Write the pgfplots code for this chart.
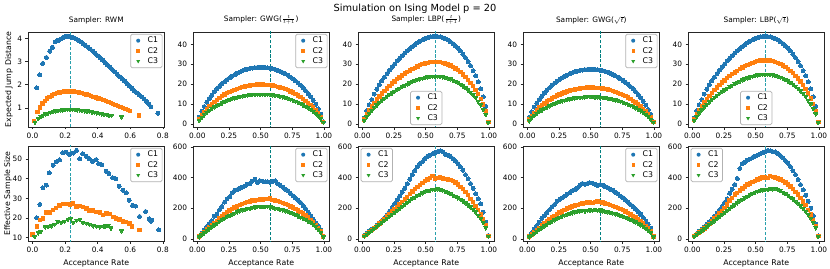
\documentclass[border=0pt]{standalone}
\usepackage{pgfplots}
\pgfplotsset{compat=1.18}
\usepackage{pgfplotstable}
\usepackage{fontspec}
\setmainfont{DejaVu Sans}
\definecolor{cA}{HTML}{1F77B4}
\definecolor{cB}{HTML}{FF7F0E}
\definecolor{cC}{HTML}{2CA02C}
\definecolor{vlA}{RGB}{40,160,172}
\definecolor{vlB}{RGB}{0,128,128}

\pgfplotstableread{
x a b c d e f
0.015 3.4 2.4 1.8 15 15 12
0.035 6.4 4.4 3.3 38 30 25
0.055 8.8 6.1 4.6 58 45 38
0.075 10.9 7.6 5.7 80 60 52
0.095 12.8 8.9 6.7 100 75 65
0.115 14.5 10.1 7.7 118 90 78
0.135 16.1 11.2 8.5 148 105 90
0.155 17.6 12.2 9.2 160 118 102
0.175 18.9 13.1 9.9 190 132 115
0.195 20.1 14.0 10.6 212 145 125
0.215 21.2 14.8 11.2 240 160 135
0.235 22.3 15.5 11.7 262 172 145
0.255 23.2 16.1 12.2 275 185 152
0.275 24.1 16.7 12.7 300 195 160
0.295 24.8 17.2 13.1 318 205 168
0.315 25.5 17.7 13.4 322 212 175
0.335 26.1 18.2 13.8 330 220 182
0.355 26.7 18.5 14.0 338 228 188
0.375 27.2 18.9 14.3 345 235 192
0.395 27.6 19.1 14.5 358 240 198
0.415 27.9 19.4 14.7 362 245 200
0.435 28.1 19.5 14.8 378 250 205
0.455 28.3 19.7 14.9 390 252 208
0.475 28.4 19.8 15.0 368 255 210
0.495 28.5 19.8 15.0 380 258 212
0.515 28.5 19.8 15.0 378 256 210
0.535 28.4 19.7 14.9 372 260 214
0.555 28.2 19.6 14.9 374 262 212
0.575 28.0 19.5 14.7 370 265 208
0.595 27.7 19.3 14.6 376 255 205
0.615 27.4 19.0 14.4 380 250 200
0.635 26.9 18.7 14.2 360 248 198
0.655 26.4 18.4 13.9 350 240 192
0.675 25.8 18.0 13.6 338 235 188
0.695 25.2 17.5 13.3 325 228 182
0.715 24.5 17.0 12.9 315 220 178
0.735 23.6 16.4 12.4 298 212 172
0.755 22.7 15.8 12.0 282 205 166
0.775 21.7 15.1 11.4 268 196 158
0.795 20.7 14.4 10.9 252 186 150
0.815 19.5 13.5 10.3 238 175 142
0.835 18.2 12.7 9.6 218 165 135
0.855 16.8 11.7 8.9 198 152 125
0.875 15.3 10.7 8.1 175 140 115
0.895 13.7 9.5 7.2 152 125 105
0.915 11.9 8.3 6.3 128 110 92
0.935 9.9 6.9 5.2 105 92 78
0.955 7.6 5.3 4.0 85 72 62
0.975 5.0 3.4 2.6 60 48 42
0.995 1.2 1.0 0.9 18 15 12
}\tGa

\pgfplotstableread{
x a b c d e f
0.015 3.1 2.2 1.7 22 20 18
0.035 6.6 4.7 3.6 38 32 30
0.055 9.7 6.9 5.3 52 45 42
0.075 12.3 8.7 6.7 62 58 54
0.095 15.0 10.6 8.2 72 70 66
0.115 17.4 12.3 9.5 88 85 80
0.135 19.6 13.9 10.7 105 100 95
0.155 21.6 15.3 11.8 120 115 108
0.175 23.5 16.7 12.8 138 130 120
0.195 25.3 17.9 13.8 158 148 135
0.215 27.1 19.2 14.8 180 162 148
0.235 28.6 20.3 15.6 205 178 160
0.255 30.1 21.4 16.4 230 192 172
0.275 31.7 22.5 17.3 255 210 185
0.295 33.0 23.4 18.0 280 225 198
0.315 34.3 24.3 18.7 305 240 212
0.335 35.6 25.3 19.4 330 258 225
0.355 36.7 26.1 20.0 360 275 238
0.375 37.8 26.8 20.6 390 292 250
0.395 38.9 27.6 21.2 420 310 262
0.415 39.8 28.2 21.7 445 325 272
0.435 40.7 28.9 22.2 470 340 282
0.455 41.6 29.5 22.7 490 352 292
0.475 42.2 30.0 23.0 505 365 300
0.495 42.9 30.4 23.4 525 378 308
0.515 43.3 30.7 23.6 540 388 315
0.535 43.7 31.0 23.8 548 398 318
0.555 43.9 31.1 24.0 555 410 325
0.575 44.0 31.2 24.0 565 395 322
0.595 43.9 31.1 24.0 570 398 326
0.615 43.7 31.0 23.8 575 400 322
0.635 43.3 30.7 23.6 568 395 318
0.655 42.8 30.4 23.4 552 392 310
0.675 42.2 29.9 23.0 548 388 302
0.695 41.4 29.3 22.6 540 385 295
0.715 40.4 28.6 22.0 525 378 286
0.735 39.3 27.9 21.4 510 368 278
0.755 38.1 27.0 20.8 492 355 268
0.775 36.7 26.0 20.0 470 340 258
0.795 35.1 24.9 19.1 448 325 248
0.815 33.3 23.6 18.2 420 305 235
0.835 31.4 22.2 17.1 392 285 222
0.855 29.3 20.7 16.0 362 262 208
0.875 26.8 19.0 14.6 330 240 192
0.895 24.2 17.2 13.2 295 215 175
0.915 21.1 15.0 11.5 262 190 155
0.935 17.6 12.5 9.6 228 160 132
0.955 13.6 9.7 7.4 175 128 105
0.975 8.8 6.2 4.8 110 88 72
0.995 1.0 0.9 0.8 22 20 18
}\tLa

\pgfplotstableread{
x a b c d e f
0.015 3.3 2.2 1.6 20 15 12
0.035 6.1 4.1 3.1 40 28 24
0.055 8.5 5.6 4.2 62 42 36
0.075 10.5 7.0 5.2 85 58 48
0.095 12.3 8.2 6.2 110 72 60
0.115 14.0 9.3 7.0 135 88 72
0.135 15.5 10.3 7.7 150 100 84
0.155 16.9 11.3 8.4 172 115 95
0.175 18.2 12.1 9.1 190 128 105
0.195 19.4 12.9 9.7 210 140 115
0.215 20.5 13.6 10.2 225 150 124
0.235 21.5 14.3 10.7 245 162 132
0.255 22.4 14.9 11.2 258 172 140
0.275 23.2 15.4 11.6 268 180 148
0.295 24.0 15.9 11.9 280 190 155
0.315 24.6 16.4 12.3 292 198 160
0.335 25.2 16.8 12.6 300 205 166
0.355 25.7 17.1 12.8 315 212 170
0.375 26.2 17.4 13.1 322 218 175
0.395 26.6 17.7 13.2 332 222 178
0.415 26.9 17.9 13.4 350 228 182
0.435 27.1 18.1 13.5 362 232 185
0.455 27.3 18.2 13.6 358 235 180
0.475 27.4 18.3 13.7 362 238 186
0.495 27.5 18.3 13.7 366 240 188
0.515 27.5 18.3 13.7 364 236 185
0.535 27.4 18.2 13.6 358 242 190
0.555 27.3 18.1 13.6 350 245 186
0.575 27.0 18.0 13.5 355 240 188
0.595 26.8 17.8 13.3 352 238 182
0.615 26.4 17.6 13.2 340 232 180
0.635 26.0 17.3 12.9 335 228 175
0.655 25.5 17.0 12.7 325 222 172
0.675 24.9 16.6 12.4 318 215 168
0.695 24.3 16.2 12.1 305 210 162
0.715 23.6 15.7 11.8 295 202 158
0.735 22.8 15.2 11.4 280 195 152
0.755 21.9 14.6 10.9 270 188 146
0.775 21.0 14.0 10.5 255 178 140
0.795 19.9 13.3 9.9 240 170 132
0.815 18.8 12.5 9.4 225 160 125
0.835 17.6 11.7 8.8 210 150 118
0.855 16.3 10.8 8.1 195 140 110
0.875 14.8 9.8 7.4 178 128 100
0.895 13.2 8.8 6.6 160 115 90
0.915 11.5 7.6 5.7 138 100 80
0.935 9.5 6.3 4.7 115 85 68
0.955 7.3 4.9 3.7 95 68 55
0.975 4.8 3.2 2.4 70 48 40
0.995 1.2 1.0 0.9 18 15 12
}\tGb

\pgfplotstableread{
x a b c d e f
0.015 3.1 2.2 1.8 20 18 15
0.035 6.6 4.8 3.8 35 30 28
0.055 9.7 7.0 5.5 50 42 40
0.075 12.3 9.0 7.0 62 55 52
0.095 15.0 10.9 8.5 78 68 65
0.115 17.4 12.6 9.9 95 82 78
0.135 19.6 14.2 11.1 110 98 92
0.155 21.6 15.7 12.3 128 115 105
0.175 23.5 17.1 13.4 148 132 118
0.195 25.3 18.4 14.4 168 150 132
0.215 27.1 19.7 15.4 190 165 145
0.235 28.6 20.8 16.3 212 182 158
0.255 30.1 21.9 17.1 238 200 172
0.275 31.7 23.0 18.0 262 225 185
0.295 33.0 24.0 18.8 298 250 198
0.315 34.3 25.0 19.5 325 268 210
0.335 35.6 25.9 20.3 355 290 222
0.355 36.7 26.7 20.9 395 300 235
0.375 37.8 27.5 21.5 460 315 248
0.395 38.9 28.3 22.1 492 330 258
0.415 39.8 29.0 22.6 500 342 268
0.435 40.7 29.6 23.1 515 355 278
0.455 41.6 30.2 23.6 522 362 288
0.475 42.2 30.7 24.0 532 372 298
0.495 42.9 31.2 24.4 540 380 305
0.515 43.3 31.5 24.6 548 388 312
0.535 43.7 31.8 24.8 555 395 318
0.555 43.9 31.9 25.0 562 400 320
0.575 44.0 32.0 25.0 570 405 325
0.595 43.9 31.9 25.0 578 398 322
0.615 43.7 31.8 24.8 575 410 328
0.635 43.3 31.5 24.6 570 405 325
0.655 42.8 31.1 24.3 568 400 330
0.675 42.2 30.7 24.0 558 395 322
0.695 41.4 30.1 23.5 545 388 315
0.715 40.4 29.4 23.0 530 378 305
0.735 39.3 28.6 22.3 512 368 295
0.755 38.1 27.7 21.6 495 355 285
0.775 36.7 26.7 20.8 472 342 272
0.795 35.1 25.5 19.9 445 325 260
0.815 33.3 24.2 18.9 420 308 245
0.835 31.4 22.8 17.8 388 290 230
0.855 29.3 21.3 16.6 355 268 215
0.875 26.8 19.5 15.3 320 245 198
0.895 24.2 17.6 13.8 285 220 180
0.915 21.1 15.4 12.0 245 190 158
0.935 17.6 12.8 10.0 200 160 135
0.955 13.6 9.9 7.8 150 125 108
0.975 8.8 6.4 5.0 95 85 72
0.995 1.0 0.9 0.8 20 20 15
}\tLb

\pgfplotsset{
 base/.style={scale only axis, width=136.5pt, height=95pt, anchor=south west,
   axis line style={line width=0.6pt, black!85},
   tick align=outside, tick pos=left, major tick length=2.5pt,
   every tick/.style={black!85, line width=0.6pt},
   tick label style={font=\fontsize{7.4}{8}\selectfont, text=black},
   label style={font=\fontsize{7.8}{9}\selectfont},
   title style={font=\fontsize{7.4}{8}\selectfont, inner sep=1pt, yshift=0.5pt},
   legend style={font=\fontsize{7.8}{9}\selectfont, draw=black!30, line width=0.7pt, rounded corners=1.5pt, fill=white, inner xsep=2.5pt, inner ysep=2pt, row sep=1.4pt, nodes={inner xsep=1.5pt, inner ysep=0.8pt}},
   legend cell align=left,
 },
 topr/.style={base, xmin=-0.034, xmax=1.044, ymin=-1.5, ymax=46.2, xtick={0,0.25,0.5,0.75,1}, xticklabels={0.00,0.25,0.50,0.75,1.00}, ytick={0,10,20,30,40}, yticklabels={0,10,20,30,40}},
 botr/.style={base, xmin=-0.034, xmax=1.044, ymin=-14, ymax=607, xtick={0,0.25,0.5,0.75,1}, xticklabels={0.00,0.25,0.50,0.75,1.00}, ytick={0,200,400,600}, yticklabels={0,200,400,600}, xlabel={Acceptance Rate}},
 UR/.style={legend style={at={(0.985,0.98)}, anchor=north east}},
 UL/.style={legend style={at={(0.02,0.98)}, anchor=north west}},
 LC/.style={legend style={at={(0.5,0.02)}, anchor=south}},
 sA/.style={only marks, mark=*, mark size=2pt, color=cA, mark options={draw=cA, fill=cA, line width=0pt},
   legend image code/.code={\path[draw=none, fill=none] (0pt,-2pt) rectangle (13pt,2pt); \path[fill=cA, draw=none, sharp corners] (5pt,0pt) circle[radius=2pt];}},
 sB/.style={only marks, mark=square*, mark size=1.7pt, color=cB, mark options={draw=cB, fill=cB, line width=0pt},
   legend image code/.code={\path[draw=none, fill=none] (0pt,-2pt) rectangle (13pt,2pt); \path[fill=cB, draw=none, sharp corners] (3.3pt,-1.7pt) rectangle (6.7pt,1.7pt);}},
 sC/.style={only marks, mark=triangle*, mark size=2.2pt, color=cC, mark options={draw=cC, fill=cC, line width=0pt, rotate=180},
   legend image code/.code={\path[draw=none, fill=none] (0pt,-2pt) rectangle (13pt,2pt); \path[fill=cC, draw=none, sharp corners] (3.1pt,1.1pt) -- (6.9pt,1.1pt) -- (5pt,-2.2pt) -- cycle;}},
 vA/.style={forget plot, vlA, line width=0.9pt, dash pattern=on 3.2pt off 1.6pt},
 vB/.style={forget plot, vlB, line width=0.9pt, dash pattern=on 3.2pt off 1.6pt},
}

\begin{document}
\begin{tikzpicture}
\useasboundingbox (0,0) rectangle (830pt,268pt);
\node[font=\fontsize{9.8}{11}\selectfont] at (415pt,259.5pt) {Simulation on Ising Model p = 20};

% ---------- Panel 1 top
\begin{axis}[base, UR, at={(28pt,141pt)}, xmin=-0.028, xmax=0.81, ymin=0.17, ymax=4.28,
  xtick={0,0.2,0.4,0.6,0.8}, xticklabels={0.0,0.2,0.4,0.6,0.8}, ytick={1,2,3,4}, yticklabels={1,2,3,4},
  title={Sampler: RWM}, ylabel={Expected Jump Distance},
  ylabel style={at={(axis description cs:-0.139,0.5)}, anchor=center}]
\addplot[sA] coordinates {(0.025,1.86) (0.045,2.42) (0.062,2.92) (0.085,3.18) (0.105,3.45) (0.122,3.62) (0.14,3.85) (0.158,3.92) (0.175,3.98) (0.19,4.05) (0.205,4.10) (0.22,4.09) (0.235,4.06) (0.25,4.04) (0.265,3.99) (0.28,3.93) (0.295,3.86) (0.31,3.78) (0.325,3.70) (0.34,3.62) (0.355,3.54) (0.37,3.45) (0.385,3.36) (0.40,3.26) (0.415,3.16) (0.43,3.06) (0.445,2.96) (0.46,2.86) (0.475,2.76) (0.49,2.66) (0.505,2.55) (0.52,2.45) (0.535,2.35) (0.55,2.25) (0.565,2.15) (0.58,2.04) (0.595,1.94) (0.61,1.84) (0.625,1.74) (0.64,1.65) (0.655,1.56) (0.67,1.47) (0.685,1.38) (0.70,1.28) (0.713,1.17) (0.727,1.05) (0.77,0.77)};
\addlegendentry{C1}
\addplot[sB] coordinates {(0.01,0.43) (0.03,0.82) (0.045,1.02) (0.06,1.18) (0.075,1.30) (0.09,1.40) (0.105,1.48) (0.12,1.54) (0.135,1.59) (0.15,1.63) (0.165,1.66) (0.18,1.69) (0.195,1.70) (0.21,1.71) (0.225,1.71) (0.24,1.71) (0.255,1.70) (0.27,1.68) (0.285,1.66) (0.30,1.64) (0.315,1.61) (0.33,1.58) (0.345,1.55) (0.36,1.52) (0.375,1.48) (0.39,1.45) (0.405,1.41) (0.42,1.37) (0.435,1.33) (0.45,1.29) (0.465,1.25) (0.48,1.21) (0.495,1.17) (0.51,1.12) (0.525,1.08) (0.54,1.04) (0.555,0.99) (0.57,0.95) (0.585,0.90) (0.60,0.85) (0.655,0.66)};
\addlegendentry{C2}
\addplot[sC] coordinates {(0.015,0.37) (0.035,0.54) (0.05,0.62) (0.065,0.68) (0.08,0.73) (0.095,0.77) (0.11,0.80) (0.125,0.83) (0.14,0.86) (0.155,0.88) (0.17,0.90) (0.185,0.91) (0.20,0.92) (0.215,0.93) (0.23,0.93) (0.245,0.93) (0.26,0.92) (0.275,0.91) (0.29,0.90) (0.305,0.89) (0.32,0.87) (0.335,0.86) (0.35,0.84) (0.365,0.82) (0.38,0.80) (0.395,0.78) (0.41,0.76) (0.425,0.74) (0.44,0.72) (0.455,0.70) (0.47,0.68) (0.485,0.67) (0.545,0.60)};
\addlegendentry{C3}
\addplot[vA] coordinates {(0.234,-10) (0.234,10)};
\end{axis}

% ---------- Panel 1 bottom
\begin{axis}[base, UR, at={(28pt,27pt)}, xmin=-0.028, xmax=0.81, ymin=8.3, ymax=56.6,
  xtick={0,0.2,0.4,0.6,0.8}, xticklabels={0.0,0.2,0.4,0.6,0.8}, ytick={10,20,30,40,50}, yticklabels={10,20,30,40,50},
  ylabel={Effective Sample Size}, xlabel={Acceptance Rate},
  ylabel style={at={(axis description cs:-0.146,0.5)}, anchor=center}]
\addplot[sA] coordinates {(0.025,20.0) (0.045,26.9) (0.064,35.3) (0.085,36.7) (0.103,42.9) (0.126,46.8) (0.145,48.5) (0.165,49.5) (0.186,53.2) (0.207,53.5) (0.227,52.4) (0.25,53.0) (0.27,54.4) (0.289,50.0) (0.308,52.7) (0.33,51.4) (0.347,50.0) (0.368,48.8) (0.39,49.7) (0.407,47.5) (0.424,47.1) (0.452,43.8) (0.469,42.6) (0.492,40.4) (0.51,40.0) (0.531,36.2) (0.554,34.1) (0.575,32.8) (0.593,29.1) (0.614,26.4) (0.632,26.0) (0.657,20.8) (0.694,23.3) (0.715,19.6) (0.727,18.4) (0.733,18.9) (0.775,13.9)};
\addlegendentry{C1}
\addplot[sB] coordinates {(0.0,11.7) (0.027,15.7) (0.045,18.9) (0.064,19.8) (0.085,22.7) (0.103,22.8) (0.124,24.0) (0.145,25.0) (0.165,26.4) (0.186,27.0) (0.207,27.0) (0.229,26.9) (0.25,27.4) (0.27,25.9) (0.289,26.0) (0.31,25.7) (0.33,24.9) (0.35,23.8) (0.372,23.8) (0.393,23.0) (0.413,22.7) (0.434,21.6) (0.455,22.3) (0.473,22.0) (0.496,20.5) (0.514,19.8) (0.533,19.3) (0.554,18.3) (0.575,17.9) (0.595,17.2) (0.61,15.6) (0.657,13.9)};
\addlegendentry{C2}
\addplot[sC] coordinates {(0.012,10.5) (0.035,12.4) (0.05,13.0) (0.078,15.4) (0.097,15.6) (0.116,15.9) (0.136,16.8) (0.155,18.1) (0.176,17.8) (0.196,18.4) (0.217,19.3) (0.234,19.6) (0.25,17.8) (0.27,18.8) (0.291,19.3) (0.31,17.6) (0.33,17.4) (0.35,16.8) (0.372,15.9) (0.393,15.7) (0.413,15.4) (0.436,15.6) (0.448,15.9) (0.465,16.1) (0.481,14.9) (0.547,13.4)};
\addlegendentry{C3}
\addplot[vA] coordinates {(0.234,0) (0.234,100)};
\end{axis}

% ---------- Panel 2
\begin{axis}[topr, UR, at={(193pt,141pt)}, title={Sampler: GWG($\frac{t}{t+1}$)}]
\addplot[sA] table[x=x,y=a]{\tGa}; \addlegendentry{C1}
\addplot[sB] table[x=x,y=b]{\tGa}; \addlegendentry{C2}
\addplot[sC] table[x=x,y=c]{\tGa}; \addlegendentry{C3}
\addplot[vB] coordinates {(0.574,-10) (0.574,100)};
\end{axis}
\begin{axis}[botr, UR, at={(193pt,27pt)}]
\addplot[sA] table[x=x,y=d]{\tGa}; \addlegendentry{C1}
\addplot[sB] table[x=x,y=e]{\tGa}; \addlegendentry{C2}
\addplot[sC] table[x=x,y=f]{\tGa}; \addlegendentry{C3}
\addplot[vB] coordinates {(0.574,-100) (0.574,1000)};
\end{axis}

% ---------- Panel 3
\begin{axis}[topr, LC, at={(358pt,141pt)}, title={Sampler: LBP($\frac{t}{t+1}$)}]
\addplot[sA] table[x=x,y=a]{\tLa}; \addlegendentry{C1}
\addplot[sB] table[x=x,y=b]{\tLa}; \addlegendentry{C2}
\addplot[sC] table[x=x,y=c]{\tLa}; \addlegendentry{C3}
\addplot[vA] coordinates {(0.574,-10) (0.574,100)};
\end{axis}
\begin{axis}[botr, UL, at={(358pt,27pt)}]
\addplot[sA] table[x=x,y=d]{\tLa}; \addlegendentry{C1}
\addplot[sB] table[x=x,y=e]{\tLa}; \addlegendentry{C2}
\addplot[sC] table[x=x,y=f]{\tLa}; \addlegendentry{C3}
\addplot[vA] coordinates {(0.574,-100) (0.574,1000)};
\end{axis}

% ---------- Panel 4
\begin{axis}[topr, UR, at={(523pt,141pt)}, title={Sampler: GWG($\sqrt{t}$)}]
\addplot[sA] table[x=x,y=a]{\tGb}; \addlegendentry{C1}
\addplot[sB] table[x=x,y=b]{\tGb}; \addlegendentry{C2}
\addplot[sC] table[x=x,y=c]{\tGb}; \addlegendentry{C3}
\addplot[vB] coordinates {(0.574,-10) (0.574,100)};
\end{axis}
\begin{axis}[botr, UR, at={(523pt,27pt)}]
\addplot[sA] table[x=x,y=d]{\tGb}; \addlegendentry{C1}
\addplot[sB] table[x=x,y=e]{\tGb}; \addlegendentry{C2}
\addplot[sC] table[x=x,y=f]{\tGb}; \addlegendentry{C3}
\addplot[vB] coordinates {(0.574,-100) (0.574,1000)};
\end{axis}

% ---------- Panel 5
\begin{axis}[topr, LC, at={(688pt,141pt)}, title={Sampler: LBP($\sqrt{t}$)}]
\addplot[sA] table[x=x,y=a]{\tLb}; \addlegendentry{C1}
\addplot[sB] table[x=x,y=b]{\tLb}; \addlegendentry{C2}
\addplot[sC] table[x=x,y=c]{\tLb}; \addlegendentry{C3}
\addplot[vA] coordinates {(0.574,-10) (0.574,100)};
\end{axis}
\begin{axis}[botr, UL, at={(688pt,27pt)}]
\addplot[sA] table[x=x,y=d]{\tLb}; \addlegendentry{C1}
\addplot[sB] table[x=x,y=e]{\tLb}; \addlegendentry{C2}
\addplot[sC] table[x=x,y=f]{\tLb}; \addlegendentry{C3}
\addplot[vA] coordinates {(0.574,-100) (0.574,1000)};
\end{axis}
\end{tikzpicture}
\end{document}
